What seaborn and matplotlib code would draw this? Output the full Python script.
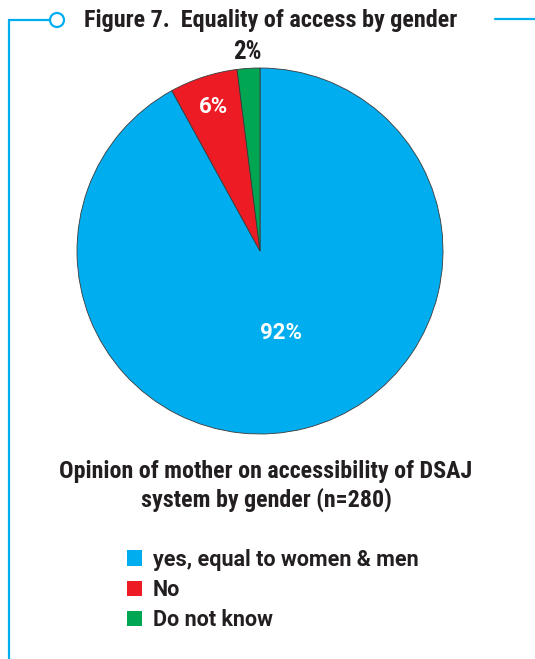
import matplotlib
matplotlib.use("Agg")
import matplotlib.pyplot as plt
import seaborn as sns
import numpy as np
from matplotlib.patches import Patch, Circle
from matplotlib.lines import Line2D

# Survey responses
categories = ["yes, equal to women & men", "No", "Do not know"]
shares = [92, 6, 2]
pct_labels = ["92%", "6%", "2%"]
colors = ["#00AEEF", "#ED1C24", "#00A651"]

title = "Figure 7.  Equality of access by gender"
subtitle = "Opinion of mother on accessibility of DSAJ\nsystem by gender (n=280)"

sns.set_theme(style="white")
FONT = ["Roboto Condensed", "DejaVu Sans"]
WIDE = ["Roboto", "DejaVu Sans"]
plt.rcParams["font.family"] = FONT
plt.rcParams["font.weight"] = "bold"

W, H = 535, 659
fig = plt.figure(figsize=(W / 100, H / 100), dpi=100)
fig.patch.set_facecolor("white")


def fx(x):
    return x / W


def fy(y):
    return 1 - y / H


TEXT = "#231F20"
BLUE_LINE = "#00AEEF"

# Pie axes
cx, cy, r = 260, 251, 183
ax = fig.add_axes([fx(cx - r), fy(cy + r), 2 * r / W, 2 * r / H])
wedges, _ = ax.pie(
    shares,
    colors=colors,
    startangle=90,
    counterclock=False,
    radius=1,
    wedgeprops=dict(edgecolor="#3a3a3a", linewidth=0.6),
)
ax.set_xlim(-1, 1)
ax.set_ylim(-1, 1)
ax.set_aspect("auto")
ax.axis("off")

# Percentage labels at each wedge's mid-angle
label_r = [0.46, 0.83, 1.09]
label_c = ["white", "white", TEXT]
label_f = [WIDE, WIDE, FONT]
label_s = [16, 16, 18]
for w, lab, rr, col, fam, fs in zip(wedges, pct_labels, label_r, label_c, label_f, label_s):
    mid = np.deg2rad((w.theta1 + w.theta2) / 2)
    ax.text(rr * np.cos(mid), rr * np.sin(mid), lab, ha="center", va="center",
            color=col, fontsize=fs, fontweight="bold", family=fam, clip_on=False)

# Title and subtitle
fig.text(fx(271), fy(21), title, ha="center", va="center", fontsize=17.4,
         fontweight="bold", color=TEXT)
fig.text(fx(266), fy(486), subtitle, ha="center", va="center", fontsize=17.3,
         fontweight="bold", color=TEXT, linespacing=1.26)

# Legend
handles = [Patch(facecolor=c, edgecolor="none") for c in colors]
fig.legend(handles, categories, loc="upper left",
           bbox_to_anchor=(fx(118), fy(540)), frameon=False,
           prop=dict(family=WIDE, weight="bold", size=15.5),
           labelcolor=TEXT, handlelength=0.72, handleheight=0.72,
           handletextpad=0.5, labelspacing=0.38, borderaxespad=0)

# Decorative frame lines
lw = 1.6
fig.add_artist(Line2D([fx(9), fx(9)], [fy(20), fy(H)], color=BLUE_LINE, lw=lw,
                      transform=fig.transFigure))
fig.add_artist(Line2D([fx(9), fx(50)], [fy(20), fy(20)], color=BLUE_LINE, lw=lw,
                      transform=fig.transFigure))
fig.add_artist(Line2D([fx(495), fx(W)], [fy(19), fy(19)], color=BLUE_LINE, lw=lw,
                      transform=fig.transFigure))
circ = Circle((57 / 100, (H - 20) / 100), 7 / 100, transform=fig.dpi_scale_trans,
              facecolor="white", edgecolor=BLUE_LINE, lw=lw)
fig.add_artist(circ)

fig.savefig("out.png", dpi=100, facecolor="white")
